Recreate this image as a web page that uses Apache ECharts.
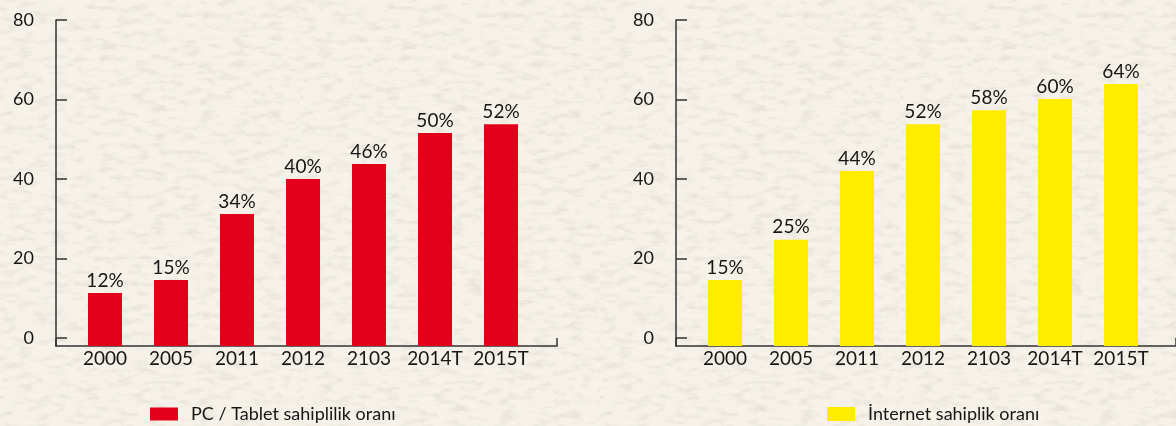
<!DOCTYPE html>
<html>
<head>
    <meta charset="utf-8">
    <title>PC / Tablet ve İnternet sahiplik oranı</title>
    <script src="https://cdn.jsdelivr.net/npm/echarts@6/dist/echarts.min.js"></script>
    <style>
        html, body { margin: 0; padding: 0; }
        body {
            background-color: #f6f2e9;
            background-image: url("data:image/svg+xml;utf8,<svg xmlns='http://www.w3.org/2000/svg' width='300' height='300'><filter id='n'><feTurbulence type='fractalNoise' baseFrequency='0.06 0.16' numOctaves='3' seed='7'/><feColorMatrix values='0 0 0 0 0.6 0 0 0 0 0.57 0 0 0 0 0.52 0 0 0 0.9 -0.42'/></filter><rect width='300' height='300' filter='url(%23n)'/></svg>");
        }
    </style>
</head>
<body>
    <div id="main" style="width: 1176px;height:426px;"></div>

    <script type="text/javascript">

        // yıllar
        var years = ['2000', '2005', '2011', '2012', '2103', '2014T', '2015T'];

        // PC / Tablet sahiplilik oranı (çubuk yükseklikleri ve etiketleri)
        var pcValues = [11.3, 14.6, 31.2, 40, 43.8, 51.6, 53.8];
        var pcLabels = ['12%', '15%', '34%', '40%', '46%', '50%', '52%'];

        // İnternet sahiplik oranı
        var netValues = [14.6, 24.7, 42, 53.8, 57.3, 60.1, 63.9];
        var netLabels = ['15%', '25%', '44%', '52%', '58%', '60%', '64%'];

        // y ekseni etiketleri
        var yTicks = [0, 20, 40, 60, 80];

        var textColor = '#161616';
        var lineColor = '#333';
        var fontName = 'Lato';
        var yMin = -2, yMax = 80;   // eksen çizgisi 0'ın biraz altında

        var myChart = echarts.init(document.getElementById('main'));

        // bir panel için eksenler (çerçeve + çubuk ızgarası)
        function frameAxes(gi) {
            return {
                x: {
                    gridIndex: gi, type: 'value', min: 0, max: 1, interval: 1,
                    axisLine: { show: true, onZero: false, lineStyle: { color: lineColor, width: 1.5 } },
                    axisTick: { show: true, inside: true, length: 8, lineStyle: { color: lineColor, width: 1.5 } },
                    axisLabel: { show: false },
                    splitLine: { show: false }
                },
                y: {
                    gridIndex: gi, type: 'value', min: yMin, max: yMax,
                    axisLine: { show: true, lineStyle: { color: lineColor, width: 1.5 } },
                    axisTick: { show: true, inside: true, length: 11, customValues: yTicks, lineStyle: { color: lineColor, width: 1.5 } },
                    axisLabel: { show: true, customValues: yTicks, margin: 22, color: textColor, fontSize: 18, fontFamily: fontName },
                    splitLine: { show: false }
                }
            };
        }

        function barAxes(gi) {
            return {
                x: {
                    gridIndex: gi, type: 'category', data: years,
                    axisLine: { show: false, onZero: false }, axisTick: { show: false },
                    axisLabel: { interval: 0, margin: 3, color: textColor, fontSize: 19, fontFamily: fontName }
                },
                y: {
                    gridIndex: gi, type: 'value', min: yMin, max: yMax, show: false
                }
            };
        }

        var f1 = frameAxes(0), b1 = barAxes(1), f2 = frameAxes(2), b2 = barAxes(3);

        // çubuklar eksen çizgisine kadar iner
        function barSeries(name, xi, values, labels, color) {
            return {
                name: name,
                type: 'custom',
                xAxisIndex: xi,
                yAxisIndex: xi,
                data: values.map(function (v, i) { return [i, v]; }),
                itemStyle: { color: color },
                renderItem: function (params, api) {
                    var top = api.coord([api.value(0), api.value(1)]);
                    var base = api.coord([api.value(0), yMin]);
                    return {
                        type: 'rect',
                        shape: { x: top[0] - 17, y: top[1], width: 34, height: base[1] - top[1] },
                        style: { fill: color },
                        textContent: {
                            style: {
                                text: labels[params.dataIndex],
                                fill: textColor,
                                fontSize: 19,
                                fontFamily: fontName
                            }
                        },
                        textConfig: { position: 'top', distance: 3 }
                    };
                }
            };
        }

        var option = {
            animation: false,
            grid: [
                { left: 56, right: 619, top: 20, bottom: 80 },
                { left: 72, right: 642, top: 20, bottom: 80 },
                { left: 676, right: -20, top: 20, bottom: 80 },
                { left: 692, right: 22, top: 20, bottom: 80 }
            ],
            xAxis: [f1.x, b1.x, f2.x, b2.x],
            yAxis: [f1.y, b1.y, f2.y, b2.y],
            legend: [
                {
                    data: [{ name: 'PC / Tablet sahiplilik oranı', itemStyle: { color: '#e2001a' } }],
                    left: 150, top: 405, padding: 0,
                    itemWidth: 28, itemHeight: 13,
                    icon: 'rect',
                    textStyle: { color: textColor, fontSize: 18, fontFamily: fontName, padding: [0, 0, 0, 8] }
                },
                {
                    data: [{ name: 'İnternet sahiplik oranı', itemStyle: { color: '#ffed00' } }],
                    left: 827, top: 405, padding: 0,
                    itemWidth: 28, itemHeight: 14,
                    icon: 'rect',
                    textStyle: { color: textColor, fontSize: 18, fontFamily: fontName, padding: [0, 0, 0, 8] }
                }
            ],
            series: [
                barSeries('PC / Tablet sahiplilik oranı', 1, pcValues, pcLabels, '#e2001a'),
                barSeries('İnternet sahiplik oranı', 3, netValues, netLabels, '#ffed00')
            ]
        };

        myChart.setOption(option);
    </script>
</body>
</html>
